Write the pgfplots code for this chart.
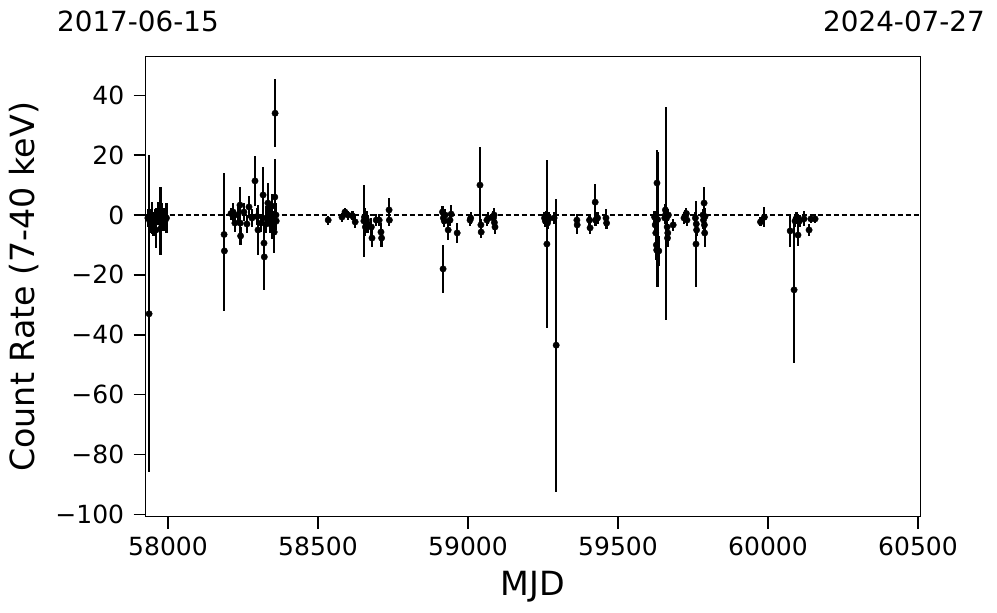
\documentclass[border=0pt]{standalone}
\usepackage{pgfplots}
\usepackage{pgfplotstable}
\pgfplotsset{compat=1.18}
\usepackage{fontspec}
\setmainfont{DejaVu Sans}

\pgfplotstableread{
x y e
57937 -33 53
57933 -1 3
57938 -1.7 3
57942 -2 4
57948 -1 5.5
57952 -3 4
57957 -2 4
57960 -5 6
57962 -0.5 3
57966 0.5 4
57975 -2 11.4
57977 -4.3 3
57980 0 4
57985 -1.5 4
57990 -2 3
57995 -1 5
58187 -6.5 20.5
58188 -12 20
58210 0.5 2
58217 1 3
58223 -2.7 3
58233 0 3
58240 3.3 6
58241 -2.7 3
58242 -7 3
58253 1 3
58263 -3 3
58270 2.7 3.7
58280 -1 3
58290 11.4 8.3
58297 -0.5 3
58300 -5 8.3
58310 -2.7 3
58317 6.7 9.3
58320 -9.4 3
58321 -14 11
58327 -1 4
58328 -3 3
58333 4 6.7
58340 1 3
58341 -2 4
58347 3 4
58348 -4 4
58353 -3 4
58354 -5.7 7
58356 6 12.7
58357 34 11.3
58360 0 4
58361 -2 3
58534 -1.7 1.5
58580 -0.7 1.5
58590 1 1.5
58600 0 1.5
58615 -0.3 1.5
58624 -2.3 2
58653 -2 12
58655 -0.7 3
58658 -4 3
58662 -1.7 3
58665 -3 3
58678 -4 3
58680 -7.7 3
58694 -1.7 2
58704 -1.7 2
58710 -5.7 3
58712 -7.7 3
58737 1.7 4
58738 -1.7 2
58915 1 2
58917 -18 8
58918 -1 2
58921 -2 2
58924 0 2
58934 -5 3.3
58940 -1.7 2
58944 0.3 3
58964 -6 3.5
59007 -1.7 2
59009 -1 2
59040 10 12.7
59043 -3.3 2
59044 -5.7 2
59063 -1.7 2
59068 -1 2
59085 -1 2.5
59087 0 2.5
59088 -2.5 2.5
59090 -4 2.5
59255 -1 2
59258 -2 2
59261 -0.7 2
59263 -9.7 28
59265 -2.7 2
59268 -1.5 2
59270 -1 2
59287 -1 2
59294 -43.5 49
59363 -1.7 2
59364 -3.3 3
59405 -1.7 2
59407 -4.3 2
59424 4.3 6.1
59425 -1.7 2
59432 -1 2
59460 -1 3
59462 -2.7 2
59622 -0.7 2
59624 -3.3 3
59626 -6 4
59628 -10 5
59629 -11.7 4
59630 10.7 11
59632 -1.5 22.5
59636 -12 5
59656 -1 2
59658 1.7 2
59660 0.5 35.5
59662 -1 3
59664 -4 3
59665 -7.7 3
59666 -6 3
59668 0 2
59684 -3.3 2
59720 -1 2
59725 -0.3 2
59728 0.5 2
59730 -1.7 2
59758 -1 2
59760 -9.7 14.3
59761 -3 2
59762 -5 2
59783 0 2
59785 -1.7 3
59787 4 5.4
59788 -3.3 3
59789 -6 4.7
59790 -0.5 3
59975 -2.3 1.5
59988 -0.7 3.4
60074 -5.3 5.5
60087 -25 24.5
60090 -2 2
60095 -1 2
60100 -6.7 3.7
60105 -2 2
60120 -1.3 2.5
60137 -5 2
60143 -1.3 1.5
60157 -1.3 1.5
}\datatable

\begin{document}
\begin{tikzpicture}
\useasboundingbox (-145.7pt,-96pt) rectangle (851.3pt,517pt);
\begin{axis}[
  scale only axis,
  width=774.3pt, height=460.3pt,
  xmin=57925.7, xmax=60506.7,
  ymin=-100.9, ymax=52.9,
  axis line style={line width=1pt},
  tick align=outside,
  major tick length=12pt,
  tick style={line width=1.6pt, black},
  xtick={58000,58500,59000,59500,60000,60500},
  xticklabels={58000,58500,59000,59500,60000,60500},
  ytick={-100,-80,-60,-40,-20,0,20,40},
  yticklabels={−100,−80,−60,−40,−20,0,20,40},
  xtick pos=bottom, ytick pos=left,
  scaled x ticks=false,
  ticklabel style={font=\fontsize{25}{30}\selectfont},
  yticklabel style={xshift=-6pt},
  xticklabel style={yshift=-4pt},
  xlabel={MJD},
  ylabel={Count Rate (7-40 keV)},
  label style={font=\fontsize{33.3}{40}\selectfont},
  xlabel style={at={(axis description cs:0.5,-0.1695)}, anchor=base},
  ylabel style={at={(axis description cs:-0.143,0.5)}, anchor=base},
  clip=false,
]
\addplot[black, line width=1.5pt, dash pattern=on 5.5pt off 2.5pt] coordinates {(57925.7,0) (60506.7,0)};
\addplot[only marks, mark=*, mark size=3.2pt, black,
  error bars/.cd, y dir=both, y explicit,
  error bar style={line width=2.2pt, black}, error mark=none]
  table[x=x, y=y, y error=e] {\datatable};
\end{axis}
\node[anchor=base west, font=\fontsize{27.8}{33}\selectfont, inner sep=0pt] at (-88.7pt,485pt) {2017-06-15};
\node[anchor=base east, font=\fontsize{27.8}{33}\selectfont, inner sep=0pt] at (839.3pt,485pt) {2024-07-27};
\end{tikzpicture}
\end{document}
